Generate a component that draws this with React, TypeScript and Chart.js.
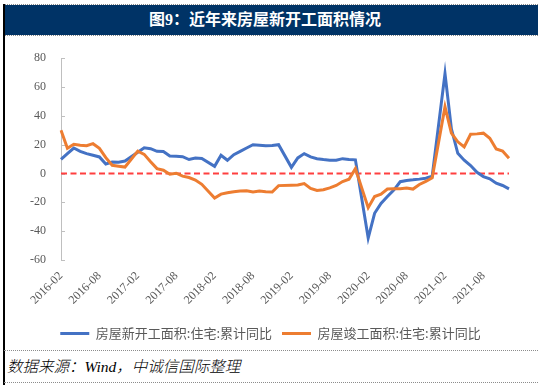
import React, { useEffect, useRef } from 'react';
import { Chart, registerables } from 'chart.js';

Chart.register(...registerables);

const months: string[] = [
  '2016-02', '2016-03', '2016-04', '2016-05', '2016-06', '2016-07', '2016-08', '2016-09', '2016-10', '2016-11', '2016-12',
  '2017-01', '2017-02', '2017-03', '2017-04', '2017-05', '2017-06', '2017-07', '2017-08', '2017-09', '2017-10', '2017-11', '2017-12',
  '2018-01', '2018-02', '2018-03', '2018-04', '2018-05', '2018-06', '2018-07', '2018-08', '2018-09', '2018-10', '2018-11', '2018-12',
  '2019-01', '2019-02', '2019-03', '2019-04', '2019-05', '2019-06', '2019-07', '2019-08', '2019-09', '2019-10', '2019-11', '2019-12',
  '2020-01', '2020-02', '2020-03', '2020-04', '2020-05', '2020-06', '2020-07', '2020-08', '2020-09', '2020-10', '2020-11', '2020-12',
  '2021-01', '2021-02', '2021-03', '2021-04', '2021-05', '2021-06', '2021-07', '2021-08', '2021-09', '2021-10', '2021-11', '2021-12',
];

const tickLabels: string[] = [
  '2016-02', '2016-08', '2017-02', '2017-08', '2018-02', '2018-08',
  '2019-02', '2019-08', '2020-02', '2020-08', '2021-02', '2021-08',
];

// 房屋新开工面积:住宅:累计同比 (January has no separate release)
const newStarts: (number | null)[] = [
  9.8, 13.8, 17.7, 15.4, 13.8, 12.7, 11.5, 6.6, 8.0, 7.9, 8.7,
  null, 14.8, 17.9, 17.2, 15.4, 15.3, 12.2, 12.0, 11.7, 9.7, 10.8, 10.5,
  null, 5.0, 12.7, 9.2, 13.1, 15.4, 17.7, 20.0, 19.6, 19.2, 19.5, 20.0,
  null, 4.3, 10.8, 13.8, 11.5, 10.3, 9.7, 9.2, 9.2, 10.3, 9.8, 9.5,
  null, -44.8, -27.6, -20.7, -16.0, -11.5, -5.7, -4.8, -4.4, -3.9, -3.3, -1.9,
  null, 69.3, 31.0, 14.0, 9.2, 5.5, 0.8, -2.1, -3.7, -6.7, -8.3, -10.6,
];

// 房屋竣工面积:住宅:累计同比
const completions: (number | null)[] = [
  30.0, 17.5, 20.3, 19.6, 19.3, 20.7, 17.5, 11.0, 5.7, 5.1, 4.5,
  null, 15.5, 13.3, 8.2, 3.4, 2.3, -0.5, 0.2, -1.8, -2.8, -4.5, -7.5,
  null, -17.0, -14.3, -13.3, -12.6, -12.2, -12.0, -12.8, -12.2, -12.6, -12.8, -8.4,
  null, -8.1, -8.0, -7.0, -10.3, -11.8, -11.3, -10.0, -8.3, -5.6, -4.0, 3.4,
  null, -23.7, -16.0, -14.3, -10.8, -10.5, -10.5, -10.0, -10.8, -7.6, -5.5, -2.9,
  null, 46.3, 28.0, 22.0, 18.4, 27.2, 27.5, 28.0, 24.4, 17.0, 15.6, 10.6,
];

const seriesNames = ['房屋新开工面积:住宅:累计同比', '房屋竣工面积:住宅:累计同比'];
const seriesColors = ['#4472C4', '#ED7D31'];

const zeroLinePlugin = {
  id: 'zeroLine',
  beforeDatasetsDraw(chart: any) {
    const { ctx, chartArea, scales } = chart;
    const yScale = scales.y;
    const y0 = yScale.getPixelForValue(0);
    ctx.save();
    // inner tick marks on the value axis
    ctx.strokeStyle = '#BFBFBF';
    ctx.lineWidth = 1;
    ctx.beginPath();
    yScale.ticks.forEach((t: any) => {
      const py = Math.round(yScale.getPixelForValue(t.value)) + 0.5;
      ctx.moveTo(chartArea.left, py);
      ctx.lineTo(chartArea.left + 4, py);
    });
    ctx.stroke();
    // red dashed horizontal axis at zero
    ctx.strokeStyle = '#FF3F3F';
    ctx.lineWidth = 2;
    ctx.setLineDash([6, 3.5]);
    ctx.beginPath();
    ctx.moveTo(chartArea.left, y0);
    ctx.lineTo(chartArea.right, y0);
    ctx.stroke();
    ctx.restore();
  },
};

function LineChart() {
  const ref = useRef<HTMLCanvasElement | null>(null);
  useEffect(() => {
    if (!ref.current) return;
    const chart = new Chart(ref.current, {
      type: 'line',
      data: {
        labels: months,
        datasets: [
          {
            label: seriesNames[0],
            data: newStarts,
            borderColor: seriesColors[0],
            backgroundColor: seriesColors[0],
            borderWidth: 3,
            pointRadius: 0,
            spanGaps: true,
            tension: 0,
            order: 2,
          },
          {
            label: seriesNames[1],
            data: completions,
            borderColor: seriesColors[1],
            backgroundColor: seriesColors[1],
            borderWidth: 3,
            pointRadius: 0,
            spanGaps: true,
            tension: 0,
            order: 1,
          },
        ],
      },
      options: {
        animation: false,
        responsive: false,
        devicePixelRatio: 1,
        layout: { padding: { top: 21, right: 0, left: 0, bottom: 0 } },
        plugins: {
          tooltip: { enabled: false },
          legend: {
            position: 'bottom',
            labels: {
              boxWidth: 29,
              boxHeight: 3,
              color: '#595959',
              padding: 10,
              font: { family: '"Noto Sans CJK SC", "Noto Sans", sans-serif', size: 13 },
              sort: (a: any, b: any) => a.datasetIndex - b.datasetIndex,
              generateLabels: (chart: any) =>
                chart.data.datasets.map((ds: any, i: number) => ({
                  text: ds.label,
                  fillStyle: ds.borderColor,
                  strokeStyle: ds.borderColor,
                  lineWidth: 0,
                  fontColor: '#595959',
                  datasetIndex: i,
                  hidden: false,
                })),
            },
          },
        },
        scales: {
          x: {
            type: 'category',
            offset: false,
            grid: { display: false, drawTicks: false },
            border: { display: false },
            afterFit: (scale: any) => {
              scale.height = 57;
            },
            ticks: {
              autoSkip: false,
              maxRotation: 45,
              minRotation: 45,
              padding: 9,
              color: '#595959',
              font: { family: '"Liberation Serif", "DejaVu Serif", serif', size: 12 },
              callback: function (this: any, _v: any, index: number) {
                const lab = months[index];
                return tickLabels.includes(lab) ? lab : '';
              },
            },
          },
          y: {
            min: -60,
            max: 80,
            grid: { display: false, drawTicks: false },
            border: { display: true, color: '#BFBFBF', width: 1 },
            afterFit: (scale: any) => {
              scale.width = 56;
            },
            ticks: {
              stepSize: 20,
              padding: 15,
              color: '#595959',
              font: { family: '"Liberation Serif", "DejaVu Serif", serif', size: 12 },
            },
          },
          yRight: {
            type: 'linear',
            position: 'right',
            min: -60,
            max: 80,
            grid: { display: false, drawTicks: false },
            border: { display: false },
            ticks: { display: false },
            afterFit: (scale: any) => {
              scale.width = 27;
            },
          },
        },
      },
      plugins: [zeroLinePlugin],
    } as any);
    return () => chart.destroy();
  }, []);
  return <canvas ref={ref} width={531} height={314} style={{ display: 'block', width: 531, height: 314 }} />;
}

export default function App() {
  const dotted = (top: number) => (
    <div style={{ position: 'absolute', left: 4, top, width: 534, height: 0, borderTop: '1px dotted #8c8c8c' }} />
  );
  return (
    <div style={{ position: 'absolute', left: 0, top: 0, width: 538, height: 387, overflow: 'hidden', background: '#ffffff' }}>
      {dotted(4)}
      <div
        style={{
          position: 'absolute',
          left: 4,
          top: 5,
          width: 534,
          height: 30,
          background: '#003366',
        }}
      />
      <div
        style={{
          position: 'absolute',
          left: 0,
          top: 5,
          width: 530,
          height: 30,
          lineHeight: '30px',
          textAlign: 'center',
          color: '#ffffff',
          fontWeight: 'bold',
          fontSize: 16,
          fontFamily: '"Liberation Serif", "Noto Sans CJK SC", serif',
          whiteSpace: 'nowrap',
        }}
      >
        图9：近年来房屋新开工面积情况
      </div>
      {dotted(35)}
      <div style={{ position: 'absolute', left: 3, top: 4, width: 2, height: 381, background: '#000000' }} />
      <div style={{ position: 'absolute', left: 5, top: 36 }}>
        <LineChart />
      </div>
      {dotted(350)}
      <div
        style={{
          position: 'absolute',
          left: 7,
          top: 356,
          height: 22,
          lineHeight: '22px',
          fontSize: 15.5,
          fontStyle: 'italic',
          fontWeight: 300,
          color: '#000000',
          fontFamily: '"Liberation Serif", "Noto Sans CJK SC", serif',
          whiteSpace: 'nowrap',
        }}
      >
        数据来源：Wind，中诚信国际整理
      </div>
      {dotted(382)}
    </div>
  );
}
